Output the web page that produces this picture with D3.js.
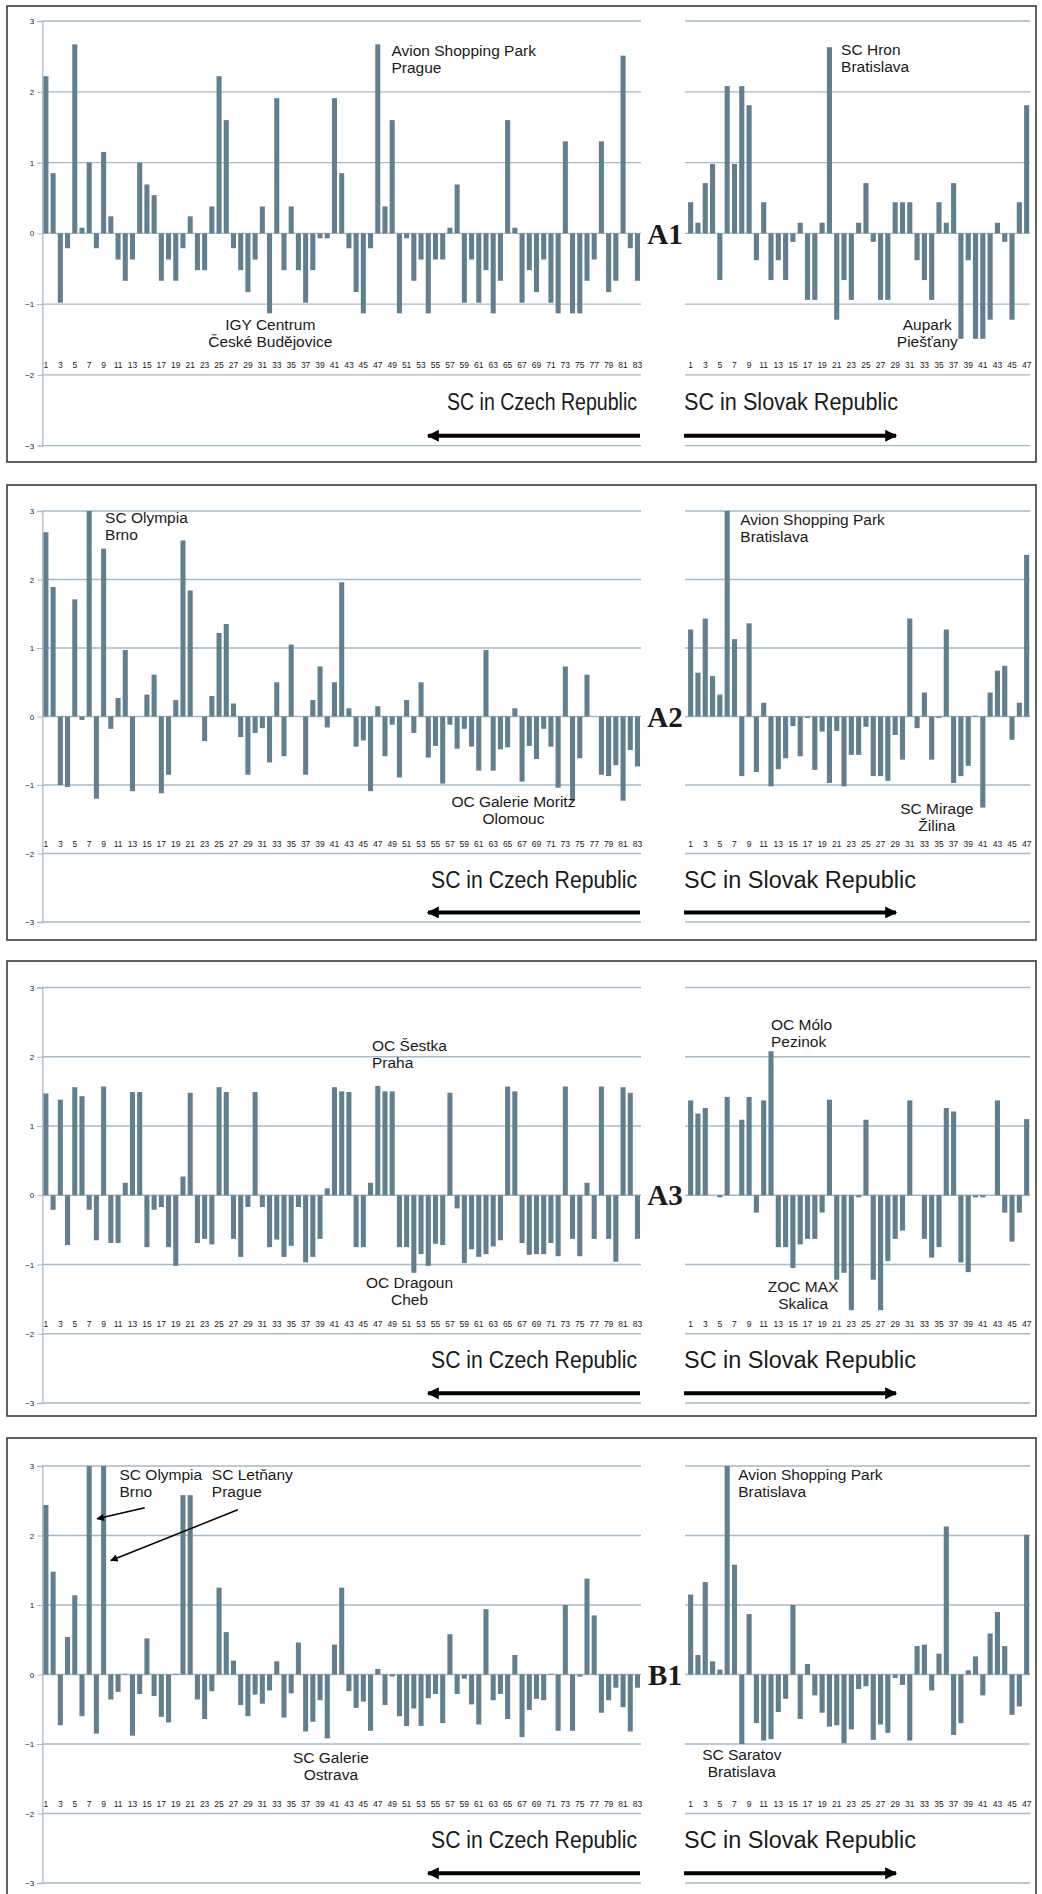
<!DOCTYPE html>
<html>

<head>
    <meta charset='utf-8'>
    <title>SC charts</title>
    <script type='text/javascript' src='https://cdn.jsdelivr.net/npm/d3@7/dist/d3.min.js'></script>
    <style>
        body { margin: 0; background: #fff; }
        text { font-family: 'Liberation Sans', Arial, sans-serif; fill: #1a1a1a; }
    </style>
</head>

<body>
    <svg width='1042' height='1894'></svg>
    <script type='text/javascript'>

        // bar values
        const a1Czech = [2.22, 0.85, -0.98, -0.21, 2.67, 0.08, 1.0, -0.21, 1.15, 0.24, -0.37, -0.67, -0.37, 1.0, 0.69, 0.54, -0.67, -0.37, -0.67, -0.21,
            0.24, -0.52, -0.52, 0.38, 2.22, 1.6, -0.21, -0.52, -0.83, -0.37, 0.38, -1.13, 1.91, -0.52, 0.38, -0.52, -0.98, -0.52, -0.07, -0.07,
            1.91, 0.85, -0.21, -0.83, -1.13, -0.21, 2.67, 0.38, 1.6, -1.13, -0.07, -0.67, -0.37, -1.13, -0.37, -0.37, 0.08, 0.69, -0.98, -0.37,
            -0.98, -0.52, -1.13, -0.67, 1.6, 0.08, -0.98, -0.52, -0.83, -0.37, -0.98, -1.13, 1.3, -1.13, -1.13, -0.67, -0.37, 1.3, -0.83, -0.67,
            2.51, -0.21, -0.67]
        const a1Slovak = [0.44, 0.15, 0.71, 0.98, -0.66, 2.08, 0.98, 2.08, 1.81, -0.38, 0.44, -0.66, -0.38, -0.66, -0.12, 0.15, -0.94, -0.94, 0.15, 2.63,
            -1.22, -0.66, -0.94, 0.15, 0.71, -0.12, -0.94, -0.94, 0.44, 0.44, 0.44, -0.38, -0.66, -0.94, 0.44, 0.15, 0.71, -1.49, -0.38, -1.49,
            -1.49, -1.22, 0.15, -0.12, -1.22, 0.44, 1.81]

        const a2Czech = [2.69, 1.89, -1.0, -1.03, 1.71, -0.05, 3.0, -1.2, 2.45, -0.18, 0.27, 0.97, -1.09, 0, 0.32, 0.61, -1.12, -0.85, 0.24, 2.57,
            1.84, 0, -0.36, 0.3, 1.22, 1.35, 0.19, -0.3, -0.85, -0.24, -0.17, -0.67, 0.5, -0.58, 1.05, 0, -0.85, 0.24, 0.73, -0.16,
            0.5, 1.96, 0.12, -0.44, -0.35, -1.09, 0.15, -0.58, -0.12, -0.89, 0.24, -0.24, 0.5, -0.6, -0.43, -0.98, -0.12, -0.47, -0.18, -0.44,
            -0.79, 0.97, -0.79, -0.48, -0.45, 0.12, -0.95, -0.43, -0.62, -0.18, -0.44, -1.04, 0.73, -1.23, -0.61, 0.61, 0, -0.85, -0.87, -0.71,
            -1.23, -0.49, -0.73]
        const a2Slovak = [1.27, 0.64, 1.43, 0.59, 0.32, 3.0, 1.13, -0.87, 1.36, -0.81, 0.2, -1.02, -0.77, -0.61, -0.14, -0.58, -0.02, -0.78, -0.22, -0.97,
            -0.21, -1.02, -0.56, -0.56, -0.15, -0.87, -0.87, -0.94, -0.27, -0.63, 1.43, -0.17, 0.35, -0.63, -0.02, 1.27, -0.97, -0.87, -0.72, 0.01,
            -1.33, 0.35, 0.67, 0.74, -0.34, 0.2, 2.36]

        const a3Czech = [1.47, -0.21, 1.38, -0.72, 1.56, 1.43, -0.21, -0.65, 1.57, -0.69, -0.69, 0.18, 1.49, 1.49, -0.75, -0.21, -0.17, -0.75, -1.02, 0.27,
            1.48, -0.69, -0.63, -0.71, 1.56, 1.49, -0.63, -0.89, -0.17, 1.49, -0.17, -0.75, -0.64, -0.89, -0.73, -0.17, -0.97, -0.89, -0.63, 0.1,
            1.56, 1.5, 1.49, -0.75, -0.75, 0.18, 1.58, 1.5, 1.5, -0.75, -0.75, -1.12, -0.85, -1.02, -0.7, -0.72, 1.48, -0.19, -0.98, -0.78,
            -0.89, -0.85, -0.74, -0.65, 1.57, 1.5, -0.69, -0.86, -0.85, -0.85, -0.69, -0.88, 1.57, -0.63, -0.88, 0.18, -0.63, 1.57, -0.63, -0.96,
            1.56, 1.48, -0.63]
        const a3Slovak = [1.37, 1.18, 1.26, 0, -0.03, 1.42, 0, 1.09, 1.42, -0.25, 1.37, 2.08, -0.75, -0.75, -1.05, -0.71, -0.63, -0.63, -0.25, 1.38,
            -1.22, -1.12, -1.66, -0.03, 1.09, -1.22, -1.66, -0.95, -0.63, -0.51, 1.37, 0, -0.63, -0.9, -0.75, 1.26, 1.21, -0.97, -1.11, -0.03,
            -0.03, 0, 1.37, -0.25, -0.67, -0.25, 1.1]

        const b1Czech = [2.44, 1.48, -0.73, 0.54, 1.14, -0.6, 3.0, -0.85, 3.0, -0.36, -0.25, 0.01, -0.88, -0.28, 0.52, -0.31, -0.61, -0.69, 0.01, 2.58,
            2.58, -0.36, -0.64, -0.24, 1.25, 0.61, 0.2, -0.44, -0.6, -0.29, -0.42, -0.23, 0.19, -0.62, -0.27, 0.46, -0.82, -0.68, -0.37, -0.92,
            0.43, 1.25, -0.24, -0.48, -0.39, -0.81, 0.08, -0.44, -0.03, -0.6, -0.74, -0.49, -0.74, -0.34, -0.28, -0.7, 0.58, -0.28, -0.06, -0.43,
            -0.72, 0.94, -0.37, -0.28, -0.64, 0.28, -0.9, -0.51, -0.35, -0.37, 0.01, -0.81, 1.0, -0.81, -0.03, 1.38, 0.85, -0.55, -0.37, -0.19,
            -0.47, -0.82, -0.19]
        const b1Slovak = [1.15, 0.28, 1.33, 0.19, 0.07, 3.0, 1.58, -1.0, 0.87, -0.7, -0.95, -0.93, -0.54, -0.35, 1.0, -0.64, 0.15, -0.3, -0.55, -0.75,
            -0.73, -0.99, -0.79, -0.21, -0.17, -0.94, -0.72, -0.84, -0.05, -0.15, -0.95, 0.41, 0.43, -0.23, 0.3, 2.13, -0.87, -0.7, 0.06, 0.26,
            -0.3, 0.59, 0.9, 0.41, -0.58, -0.46, 2.01]

        const czechIds = d3.range(1, 84)
        const slovakIds = d3.range(1, 48)
        const yTicks = [3, 2, 1, 0, -1, -2, -3]

        // notes: lines, bar position, value of first line, anchor, side
        const notes = [
            [{ lines: ['IGY Centrum', 'České Budějovice'], at: 32.1, v: -1.36, anchor: 'middle', side: 'cz' },
             { lines: ['Avion Shopping Park', 'Prague'], at: 48.9, v: 2.51, anchor: 'start', side: 'cz' },
             { lines: ['SC Hron', 'Bratislava'], at: 21.6, v: 2.52, anchor: 'start', side: 'sk' },
             { lines: ['Aupark', 'Piešťany'], at: 33.4, v: -1.37, anchor: 'middle', side: 'sk' }],
            [{ lines: ['SC Olympia', 'Brno'], at: 9.2, v: 2.83, anchor: 'start', side: 'cz' },
             { lines: ['OC Galerie Moritz', 'Olomouc'], at: 65.8, v: -1.32, anchor: 'middle', side: 'cz' },
             { lines: ['Avion Shopping Park', 'Bratislava'], at: 7.8, v: 2.8, anchor: 'start', side: 'sk' },
             { lines: ['SC Mirage', 'Žilina'], at: 34.7, v: -1.43, anchor: 'middle', side: 'sk' }],
            [{ lines: ['OC Šestka', 'Praha'], at: 46.2, v: 2.09, anchor: 'start', side: 'cz' },
             { lines: ['OC Dragoun', 'Cheb'], at: 51.4, v: -1.34, anchor: 'middle', side: 'cz' },
             { lines: ['OC Mólo', 'Pezinok'], at: 12.0, v: 2.38, anchor: 'start', side: 'sk' },
             { lines: ['ZOC MAX', 'Skalica'], at: 16.4, v: -1.4, anchor: 'middle', side: 'sk' }],
            [{ lines: ['SC Olympia', 'Brno'], at: 11.2, v: 2.8, anchor: 'start', side: 'cz' },
             { lines: ['SC Letňany', 'Prague'], at: 24.0, v: 2.8, anchor: 'start', side: 'cz' },
             { lines: ['SC Galerie', 'Ostrava'], at: 40.5, v: -1.28, anchor: 'middle', side: 'cz' },
             { lines: ['Avion Shopping Park', 'Bratislava'], at: 7.5, v: 2.8, anchor: 'start', side: 'sk' },
             { lines: ['SC Saratov', 'Bratislava'], at: 8.0, v: -1.23, anchor: 'middle', side: 'sk' }]
        ]
        // pointer arrows in B1 (bar position / value pairs)
        const b1Pointers = [
            { from: [14.7, 2.40], to: [8.1, 2.24] },
            { from: [27.6, 2.37], to: [10.0, 1.64] }
        ]

        const panels = [
            { name: 'A1', czech: a1Czech, slovak: a1Slovak, frame: [6, 462], yr: [21, 445.7], notes: notes[0], pointers: [] },
            { name: 'A2', czech: a2Czech, slovak: a2Slovak, frame: [485, 940], yr: [511, 922], notes: notes[1], pointers: [] },
            { name: 'A3', czech: a3Czech, slovak: a3Slovak, frame: [961, 1416], yr: [987.5, 1403], notes: notes[2], pointers: [] },
            { name: 'B1', czech: b1Czech, slovak: b1Slovak, frame: [1438, 1900], yr: [1466, 1883], notes: notes[3], pointers: b1Pointers }
        ]

        const svg = d3.select('svg')
        const barColor = '#627f8f'
        const gridColor = '#a5bac8'

        const defs = svg.append('defs')
        defs.append('marker').attr('id', 'bigHead')
            .attr('viewBox', '0 0 10 10').attr('refX', 9).attr('refY', 5)
            .attr('markerWidth', 3.2).attr('markerHeight', 3)
            .attr('markerUnits', 'strokeWidth').attr('orient', 'auto')
            .append('path').attr('d', 'M0,0 L10,5 L0,10 z').attr('fill', '#000')
        defs.append('marker').attr('id', 'smallHead')
            .attr('viewBox', '0 0 10 10').attr('refX', 9).attr('refY', 5)
            .attr('markerWidth', 6).attr('markerHeight', 5)
            .attr('markerUnits', 'strokeWidth').attr('orient', 'auto')
            .append('path').attr('d', 'M0,0 L10,5 L0,10 z').attr('fill', '#000')

        const xCz = d3.scaleBand().domain(czechIds).range([42.3, 641.1]).paddingInner(0.3).paddingOuter(0.15)
        const xSk = d3.scaleBand().domain(slovakIds).range([687, 1030.3]).paddingInner(0.3).paddingOuter(0.15)
        // fractional bar position -> pixel
        const posCz = d3.scaleLinear().domain([1, 83]).range([xCz(1) + xCz.bandwidth() / 2, xCz(83) + xCz.bandwidth() / 2])
        const posSk = d3.scaleLinear().domain([1, 47]).range([xSk(1) + xSk.bandwidth() / 2, xSk(47) + xSk.bandwidth() / 2])

        panels.forEach(p => drawPanel(p))

        function drawPanel(p) {
            const g = svg.append('g')
            const y = d3.scaleLinear().domain([3, -3]).range(p.yr)

            g.append('rect')
                .attr('x', 7).attr('y', p.frame[0])
                .attr('width', 1029).attr('height', p.frame[1] - p.frame[0])
                .attr('fill', 'none').attr('stroke', '#3a3a3a').attr('stroke-width', 1.6)

            // grid lines
            const grids = [[42, 641], [685, 1030]]
            grids.forEach(r => {
                g.selectAll(null).data(yTicks).enter().append('line')
                    .attr('x1', r[0]).attr('x2', r[1])
                    .attr('y1', d => y(d)).attr('y2', d => y(d))
                    .attr('stroke', gridColor).attr('stroke-width', 1.3)
            })

            // left axis
            const axis = g.append('g').attr('transform', 'translate(42.3,0)')
                .call(d3.axisLeft(y).tickValues(yTicks).tickFormat(d3.format('d')).tickSize(5).tickPadding(3))
            axis.select('.domain').attr('stroke', gridColor).attr('stroke-width', 1.3)
            axis.selectAll('.tick line').attr('stroke', gridColor)
            axis.selectAll('.tick text').style('font-size', '8px').attr('fill', '#222')

            const sides = [[p.czech, xCz], [p.slovak, xSk]]
            sides.forEach(([vals, x]) => {
                g.selectAll(null).data(vals).enter().append('rect')
                    .attr('x', (d, i) => x(i + 1))
                    .attr('width', x.bandwidth())
                    .attr('y', d => y(Math.max(0, d)))
                    .attr('height', d => Math.abs(y(d) - y(0)))
                    .attr('fill', barColor)

                g.selectAll(null).data(x.domain().filter(d => d % 2 === 1)).enter().append('text')
                    .attr('x', d => x(d) + x.bandwidth() / 2)
                    .attr('y', y(-1.86))
                    .attr('dy', '0.35em')
                    .attr('text-anchor', 'middle')
                    .style('font-size', '8.5px')
                    .text(d => d)
            })

            // panel label
            g.append('text')
                .attr('x', 665).attr('y', y(0))
                .attr('dy', '0.35em')
                .attr('text-anchor', 'middle')
                .style('font-family', "'Liberation Serif', 'Times New Roman', serif")
                .style('font-weight', 'bold').style('font-size', '29px')
                .text(p.name)

            // country captions
            g.append('text')
                .attr('x', 637).attr('y', y(-2.5))
                .attr('text-anchor', 'end')
                .attr('textLength', p.name === 'A1' ? 190 : 206).attr('lengthAdjust', 'spacingAndGlyphs')
                .style('font-size', '23px')
                .text('SC in Czech Republic')
            g.append('text')
                .attr('x', 684).attr('y', y(-2.5))
                .attr('text-anchor', 'start')
                .attr('textLength', p.name === 'A1' ? 214 : 232).attr('lengthAdjust', 'spacingAndGlyphs')
                .style('font-size', '23px')
                .text('SC in Slovak Republic')

            // direction arrows
            g.append('line')
                .attr('x1', 640).attr('x2', 428)
                .attr('y1', y(-2.86)).attr('y2', y(-2.86))
                .attr('stroke', '#000').attr('stroke-width', 4)
                .attr('marker-end', 'url(#bigHead)')
            g.append('line')
                .attr('x1', 684).attr('x2', 896)
                .attr('y1', y(-2.86)).attr('y2', y(-2.86))
                .attr('stroke', '#000').attr('stroke-width', 4)
                .attr('marker-end', 'url(#bigHead)')

            // annotations
            p.notes.forEach(n => {
                const pos = n.side === 'cz' ? posCz : posSk
                const t = g.append('text')
                    .attr('x', pos(n.at)).attr('y', y(n.v))
                    .attr('dy', '0.35em')
                    .attr('text-anchor', n.anchor)
                    .style('font-size', '15.5px')
                t.selectAll('tspan').data(n.lines).enter().append('tspan')
                    .attr('x', pos(n.at))
                    .attr('dy', (d, i) => i === 0 ? 0 : 17)
                    .text(d => d)
            })

            p.pointers.forEach(a => {
                g.append('line')
                    .attr('x1', posCz(a.from[0])).attr('y1', y(a.from[1]))
                    .attr('x2', posCz(a.to[0])).attr('y2', y(a.to[1]))
                    .attr('stroke', '#000').attr('stroke-width', 1.5)
                    .attr('marker-end', 'url(#smallHead)')
            })
        }
    </script>
</body>

</html>
